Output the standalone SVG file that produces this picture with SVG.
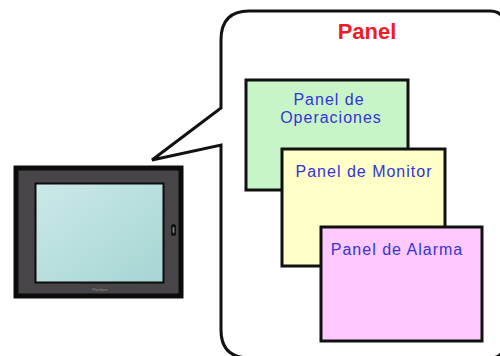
<svg xmlns="http://www.w3.org/2000/svg" width="500" height="356" viewBox="0 0 500 356">
  <style>
    .frame { fill: none; stroke: #111; stroke-width: 3; stroke-linejoin: miter; }
    .card { stroke: #111; stroke-width: 3; }
    .label { font-family: "Liberation Sans", Arial, sans-serif; font-size: 16px; fill: #3434d4; text-anchor: middle; letter-spacing: 1px; }
    .title { font-family: "Liberation Sans", Arial, sans-serif; font-size: 22px; font-weight: bold; fill: #ee1c24; text-anchor: middle; }
  </style>
  <defs>
    <linearGradient id="screen" x1="0" y1="0" x2="1" y2="1">
      <stop offset="0" stop-color="#cbe9e7"/>
      <stop offset="1" stop-color="#a5d5d3"/>
    </linearGradient>
  </defs>
  <rect width="500" height="356" fill="#fff"/>

  <!-- callout balloon pointing at the terminal -->
  <g id="connectors">
    <path class="frame" d="M221,145 L221,330 Q221,358 250,358 L490,358 Q504,358 504,344 L504,25 Q504,11 490,11 L249,11 Q221,11 221,40 L221,108 L152,160 Z"/>
  </g>

  <!-- operator terminal -->
  <g id="terminal">
    <rect x="16" y="168" width="165" height="128" fill="#484548" stroke="#0c0c0c" stroke-width="5"/>
    <rect x="35.5" y="183.5" width="128" height="99" fill="url(#screen)" stroke="#0c0c0c" stroke-width="2"/>
    <rect x="171" y="224" width="5" height="12" rx="2.5" fill="#111"/>
    <rect x="172.5" y="227" width="2" height="6" rx="1" fill="#777"/>
    <text x="100" y="291" font-family="Liberation Sans, Arial, sans-serif" font-size="4" fill="#9a979a" text-anchor="middle">Pro-face</text>
  </g>

  <g id="title">
    <text class="title" x="367" y="39">Panel</text>
  </g>

  <g id="panel-operaciones">
    <rect class="card" x="246" y="80" width="162" height="110" fill="#c8f5c8"/>
    <text class="label" x="329" y="105">Panel de</text>
    <text class="label" x="331" y="123">Operaciones</text>
  </g>

  <g id="panel-monitor">
    <rect class="card" x="282" y="149" width="163" height="117" fill="#ffffc8"/>
    <text class="label" x="364" y="177">Panel de Monitor</text>
  </g>

  <g id="panel-alarma">
    <rect class="card" x="321" y="227" width="161" height="114" fill="#ffc8ff"/>
    <text class="label" x="397" y="255">Panel de Alarma</text>
  </g>
</svg>
